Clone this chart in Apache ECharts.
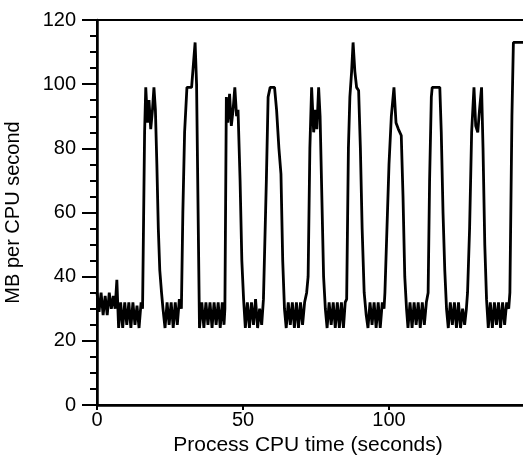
<!DOCTYPE html>
<html>
<head>
<meta charset="utf-8">
<script src="https://cdn.jsdelivr.net/npm/echarts@6/dist/echarts.min.js"></script>
<style>html,body{margin:0;padding:0;background:#fff}#c{width:523px;height:458px}</style>
</head>
<body>
<div id="c"></div>
<script>
// Process CPU time (seconds)
var cpuTime = [
 0,0.7,1.4,2.1,2.8,3.5,4.2,4.9,5.6,6.2,6.8,7.4,8.1,8.8,9.5,10.2,10.9,11.6,12.3,13,13.7,14.4,15.1,15.6,
 16.3,16.7,17.3,17.8,18.4,19.0,19.5,20.0,20.5,21.0,21.5,22.1,22.6,23.3,
 24,24.7,25.4,26.1,26.8,27.5,28.2,28.9,
 29.4,30.0,30.8,32.4,33.6,34.1,35.1,
 35.9,36.6,37.3,38,38.7,39.4,40.1,40.8,41.5,42.2,42.9,43.5,
 43.8,44.3,44.8,45.4,46,46.6,47.2,47.8,48.3,49,49.6,50.2,50.8,
 51.5,52.2,52.9,53.6,54.3,55,55.7,56.4,57,
 57.5,58,58.6,59.3,60.8,61.5,62.3,63,63.6,64.2,64.8,
 65.5,66.2,66.9,67.6,68.3,69,69.7,70.4,71.1,71.8,
 72.3,72.9,73.5,74.2,74.8,75.3,75.9,76.4,77,77.6,78.2,78.8,
 79.5,80.2,80.9,81.6,82.3,83,83.7,84.4,85,
 85.5,86.1,86.6,87.2,87.7,88.3,88.9,89.6,90.2,90.8,91.5,92.2,92.8,
 93.5,94.2,94.9,95.6,96.3,97,97.7,98.3,
 98.6,99.3,100,100.8,101.7,102.4,103.2,104.2,104.8,105.4,106,106.5,
 107.2,107.9,108.6,109.3,110,110.7,111.4,112.1,112.8,
 113.4,113.9,114.5,114.8,117.4,117.9,118.5,119.1,119.7,120.3,
 121,121.7,122.4,123.1,123.8,124.5,125.2,125.9,126.5,
 126.9,127.6,128.3,129.1,129.7,130.4,131.0,131.7,132.2,132.8,133.4,134,
 134.7,135.4,136.1,136.8,137.5,138.2,138.9,139.6,140.3,141,
 141.4,142.1,142.6,150
];
// MB per CPU second
var mbPerSec = [
 35,29,35,28,34,28,35,30,34,30,39,24,32,24,32,25,32,24,32,25,31,24,32,30,
 85,99,88,95,86,92,99,92,75,55,42,35,30,24,
 32,25,32,24,32,25,33,30,
 60,85,99,99,113,100,24,
 32,24,32,25,32,24,32,25,32,24,32,25,
 30,96,88,97,87,92,99,90,92,70,45,33,24,
 32,24,32,25,33,24,30,25,33,
 33,70,96,99,99,92,80,72,45,30,24,
 32,25,32,24,32,24,32,25,32,35,
 40,80,99,85,92,86,99,90,65,40,30,24,
 32,25,32,24,32,24,32,24,32,
 33,80,96,104,113,104,99,98,80,55,35,28,24,
 32,25,32,24,32,24,32,30,
 35,55,75,90,99,88,86,84,65,40,30,24,
 32,24,32,25,32,24,32,25,32,
 35,70,96,99,99,85,60,42,30,24,
 32,25,32,24,32,24,30,25,30,
 35,55,85,99,87,85,92,99,80,50,33,24,
 32,24,32,25,32,24,32,25,32,30,
 35,90,113,113
];
var xTicks = [0, 50, 100];
var yTicks = [0, 20, 40, 60, 80, 100, 120];

var data = cpuTime.map(function (t, i) { return [t, mbPerSec[i]]; });
var font = '"Liberation Sans", Arial, sans-serif';
var chart = echarts.init(document.getElementById('c'), null, {renderer: 'canvas'});
chart.setOption({
  animation: false,
  backgroundColor: '#fff',
  grid: {left: 97, top: 20, right: -12, bottom: 53, outerBoundsMode: 'none', containLabel: false,
    show: true, borderColor: '#000', borderWidth: 2, backgroundColor: 'transparent'},
  xAxis: {
    type: 'value', min: 0, max: 150, interval: 50,
    name: 'Process CPU time (seconds)', nameLocation: 'middle', nameGap: 25,
    nameTextStyle: {fontFamily: font, fontSize: 21, color: '#000', padding: [0, 16, 0, 0]},
    axisLine: {show: true, lineStyle: {color: '#000', width: 2.5}},
    axisTick: {show: true, length: 5, lineStyle: {color: '#000', width: 2}},
    axisLabel: {fontFamily: font, fontSize: 20, color: '#000', margin: 5,
      formatter: function (v) { return xTicks.indexOf(v) >= 0 ? String(v) : ''; }},
    splitLine: {show: false}
  },
  yAxis: {
    type: 'value', min: 0, max: 120, interval: 20,
    name: 'MB per CPU second', nameLocation: 'middle', nameGap: 74,
    nameTextStyle: {fontFamily: font, fontSize: 20, color: '#000'},
    axisLine: {show: true, lineStyle: {color: '#000', width: 2.5}},
    axisTick: {show: true, length: 15, lineStyle: {color: '#000', width: 2}},
    minorTick: {show: true, splitNumber: 4, length: 7, lineStyle: {color: '#000', width: 2}},
    axisLabel: {fontFamily: font, fontSize: 20, color: '#000', margin: 21,
      formatter: function (v) { return yTicks.indexOf(v) >= 0 ? String(v) : ''; }},
    splitLine: {show: false}
  },
  series: [{
    type: 'line', data: data, showSymbol: false, symbol: 'none',
    lineStyle: {color: '#000', width: 2.8}, clip: true
  }]
});
</script>
</body>
</html>
